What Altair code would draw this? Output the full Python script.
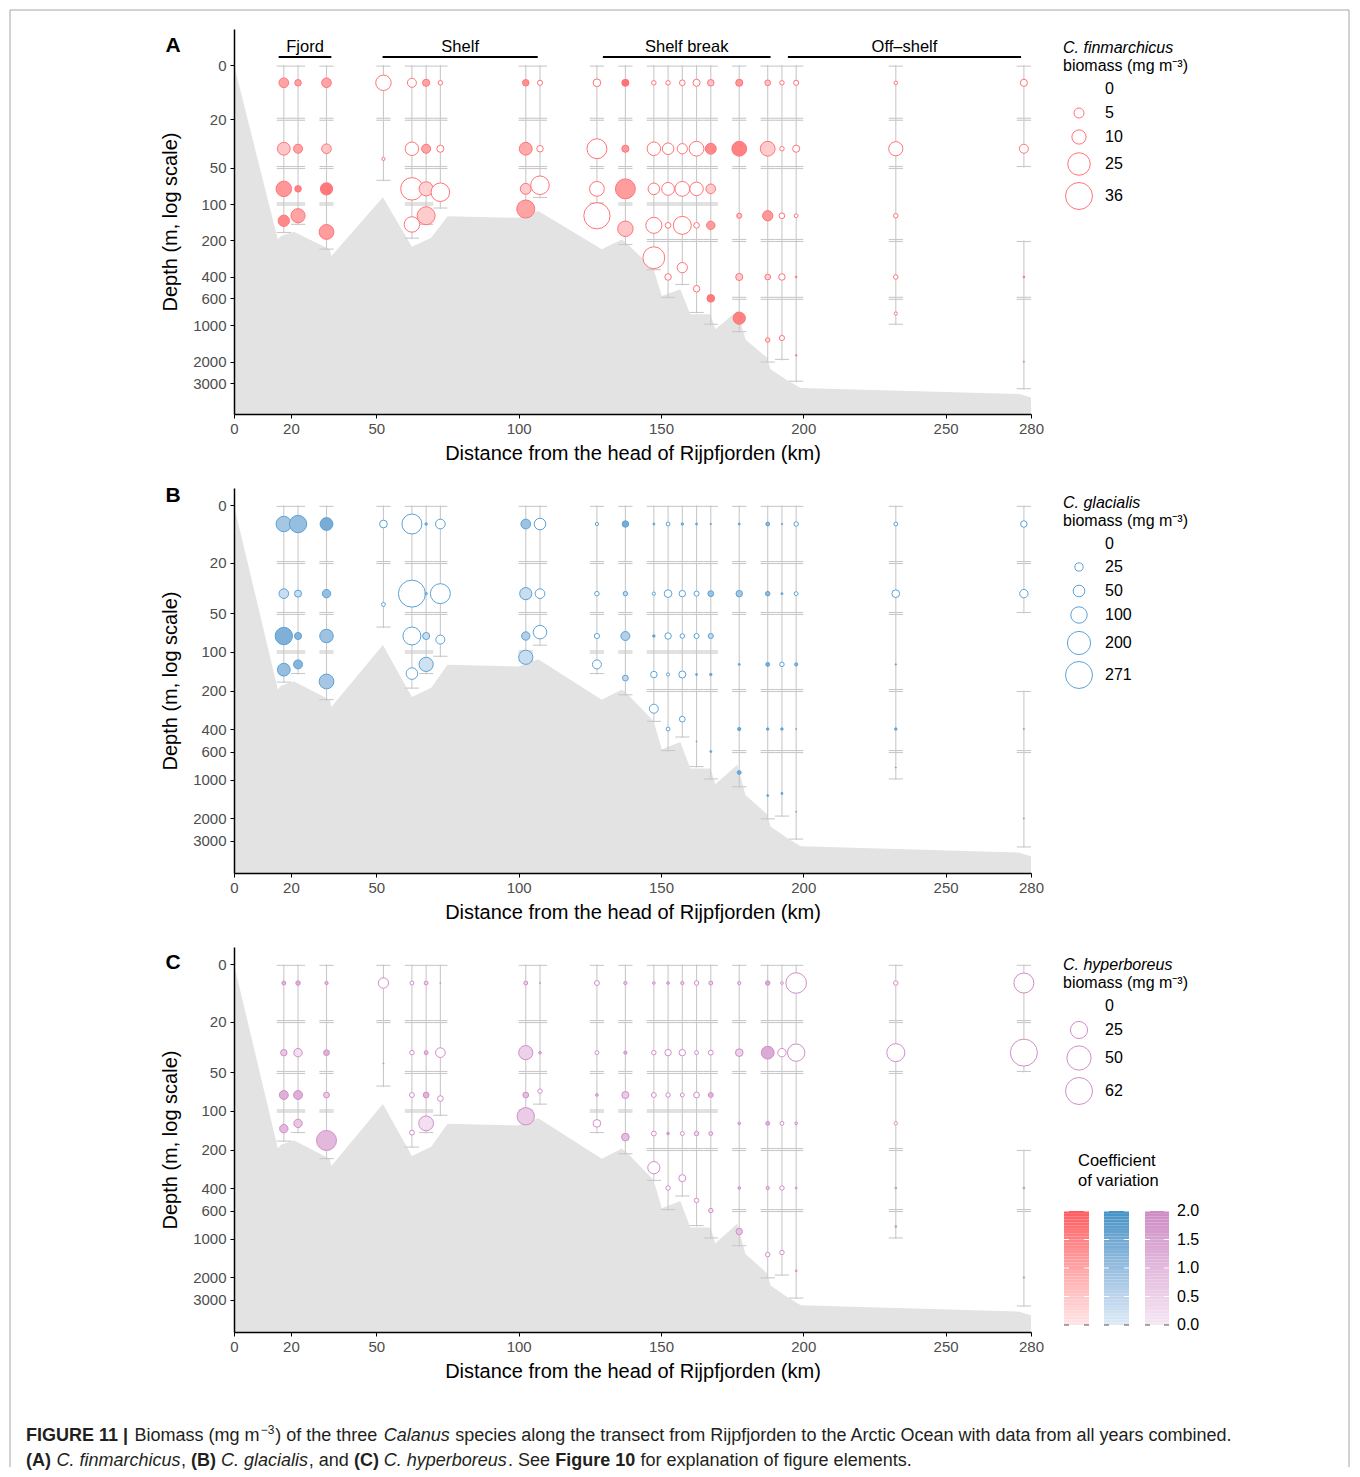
import altair as alt
import pandas as pd

N = None

# ---------------- data ----------------
STATION_KM = [17.5, 22.5, 32.5, 52.5, 62.5, 67.5, 72.5, 102.5, 107.5, 127.5, 137.5,
              147.5, 152.5, 157.5, 162.5, 167.5, 177.5, 187.5, 192.5, 197.5, 232.5, 277.5]

STRATA = [
    [(0, 20), (20, 50), (50, 100), (100, 175)],
    [(0, 20), (20, 50), (50, 100), (100, 150)],
    [(0, 20), (20, 50), (50, 100), (100, 240)],
    [(0, 20), (20, 65)],
    [(0, 20), (20, 50), (50, 100), (100, 195)],
    [(0, 20), (20, 50), (50, 100), (100, 150)],
    [(0, 20), (20, 50), (50, 110)],
    [(0, 20), (20, 50), (50, 100), (100, 120)],
    [(0, 20), (20, 50), (50, 90)],
    [(0, 20), (20, 50), (50, 100), (100, 150)],
    [(0, 20), (20, 50), (50, 100), (100, 220)],
    [(0, 20), (20, 50), (50, 100), (100, 200), (200, 355)],
    [(0, 20), (20, 50), (50, 100), (100, 200), (200, 600)],
    [(0, 20), (20, 50), (50, 100), (100, 200), (200, 470)],
    [(0, 20), (20, 50), (50, 100), (100, 200), (200, 800)],
    [(0, 20), (20, 50), (50, 100), (100, 200), (200, 1000)],
    [(0, 20), (20, 50), (50, 200), (200, 600), (600, 1150)],
    [(0, 20), (20, 50), (50, 200), (200, 600), (600, 2050)],
    [(0, 20), (20, 50), (50, 200), (200, 600), (600, 1950)],
    [(0, 20), (20, 50), (50, 200), (200, 600), (600, 2950)],
    [(0, 20), (20, 50), (50, 200), (200, 600), (600, 1000)],
    [(0, 20), (20, 50), (200, 600), (600, 3400)],
]

BATHY_KM = [0, 15.4, 16.5, 21.0, 33.6, 34.2, 52.3, 62.5, 69.3, 75.0, 99.8, 106.9, 129.2,
            136.3, 138.6, 147.4, 150.3, 156.8, 160.3, 167.4, 169.1, 176.8, 179.7, 187.3,
            188.5, 193.8, 199.1, 275.9, 280]
BATHY_DEPTH = [0, 196, 184, 169, 236, 269, 88, 225, 190, 126, 130, 114, 236,
               196, 218, 346, 575, 506, 813, 813, 1082, 762, 1310, 1857,
               2310, 2790, 3290, 3700, 3950]

FIN_BIOMASS = [
    [4.6, 8.1, 11.8, 6.3], [2.1, 4.0, 2.1, 9.9], [4.6, 4.6, 7.4, 10.8], [11.8, 0.5],
    [4.0, 9.0, 25.0, 11.8], [2.5, 4.0, 9.9, 16.0], [1.0, 2.5, 17.0], [2.1, 8.1, 5.9, 16.0],
    [1.3, 2.1, 17.0], [2.9, 19.6, 10.8, 34.0], [2.5, 2.5, 19.6, 11.8],
    [1.0, 9.0, 6.6, 12.8, 23.6], [1.0, 6.6, 8.1, 1.6, 2.1], [1.6, 5.2, 10.8, 16.0, 5.2],
    [2.5, 10.8, 9.0, 1.6, 2.1], [2.1, 5.9, 4.6, 3.5, 2.9], [2.5, 10.8, 1.3, 2.5, 7.4],
    [1.6, 10.8, 5.2, 1.6, 1.0], [1.0, 1.0, 1.6, 2.1, 1.3], [1.3, 2.5, 0.7, 0.15, 0.1],
    [0.6, 9.9, 1.0, 1.0, 0.5], [2.5, 4.0, 0.15, 0.05],
]
FIN_CV = [
    [1.0, 0.5, 1.2, 1.4], [1.0, 1.0, 1.5, 1.0], [1.0, 0.5, 1.6, 1.1], [N, N],
    [N, N, N, N], [1.0, 1.0, 0.3, 0.4], [N, N, N], [1.3, 0.9, 0.4, 1.0],
    [N, N, N], [N, N, N, N], [1.7, 1.2, 1.1, 0.5],
    [N, N, N, N, N], [N, N, N, N, N], [N, N, N, N, N],
    [N, N, N, N, N], [0.5, 1.4, 0.4, 1.1, 1.6], [1.2, 1.5, 0.6, 0.4, 1.5],
    [0.5, 0.4, 1.2, 0.3, 0.2], [N, N, N, N, N], [N, N, N, 1.5, 1.5],
    [N, N, N, N, N], [N, N, 1.5, 1.5],
]

GLA_BIOMASS = [
    [88.5, 34.6, 112, 61], [112, 18.6, 18.6, 30], [61, 26, 68, 81], [22, 5.5],
    [148, 271, 120, 50], [2.2, 2.2, 18.6, 75], [35, 148, 30], [35, 55, 26, 75],
    [50, 35, 68], [3.8, 7.5, 9.7, 30], [15.5, 7.5, 30, 12.4],
    [1.4, 3.8, 2.2, 15.5, 30], [5.5, 22, 15.5, 3.8, 5.5], [2.2, 15.5, 7.5, 18.6, 12.4],
    [1.4, 9.7, 9.7, 1.4, 0.3], [0.6, 12.4, 9.7, 2.2, 1.4], [1.4, 15.5, 1.4, 3.8, 5.5],
    [5.5, 7.5, 5.5, 2.2, 1.4], [0.6, 1.4, 7.5, 2.2, 1.4], [7.5, 5.5, 3.8, 0.3, 0.3],
    [5.5, 22, 0.6, 2.2, 0.3], [15.5, 26, 0.3, 0.3],
]
GLA_CV = [
    [0.8, 0.3, 1.3, 1.0], [1.0, 0.3, 1.2, 1.2], [1.4, 1.0, 0.9, 0.8], [N, N],
    [N, N, N, N], [1.2, 1.0, 0.3, 0.2], [N, N, N], [0.9, 0.3, 0.6, 0.3],
    [N, N, N], [N, N, N, N], [1.4, 0.4, 0.6, 0.4],
    [1.0, N, 1.3, N, N], [N, N, N, N, N], [1.0, N, N, N, N],
    [1.2, N, N, 1.3, 1.5], [1.5, 0.9, 0.4, 1.4, 1.4], [1.5, 0.8, 1.5, 1.5, 1.5],
    [1.1, 1.1, 1.4, 1.5, 1.5], [1.5, 1.5, N, 1.5, 1.5], [N, N, 1.2, 1.5, 1.5],
    [N, N, 1.5, 1.4, 1.5], [N, N, 1.5, 1.5],
]

HYP_BIOMASS = [
    [1.3, 3.5, 6.8, 6.0], [1.7, 6.0, 6.8, 6.0], [0.9, 2.8, 2.8, 34], [9.0, 0.1],
    [1.3, 1.7, 2.0, 2.0], [1.3, 1.3, 2.8, 18.6], [0.1, 7.9, 2.8], [1.3, 17, 2.8, 25.6],
    [0.1, 0.6, 1.7], [2.0, 1.3, 0.6, 5.0], [0.9, 0.9, 4.2, 5.0],
    [0.6, 1.7, 2.0, 2.0, 12.7], [0.6, 3.5, 1.7, 0.6, 1.7], [0.9, 3.5, 1.3, 1.3, 4.2],
    [1.7, 1.3, 2.8, 1.7, 1.7], [1.3, 2.0, 2.0, 1.3, 1.7], [0.9, 5.0, 0.6, 0.6, 3.5],
    [1.7, 14, 1.3, 0.9, 1.7], [0.6, 6.0, 1.3, 1.7, 1.7], [36, 25.6, 0.6, 0.3, 0.3],
    [1.7, 27.6, 0.9, 0.3, 0.3], [34, 62, 0.3, 0.2],
]
HYP_CV = [
    [1.1, 0.7, 1.2, 1.0], [1.2, 0.2, 1.2, 0.7], [1.0, 1.2, 0.6, 1.0], [N, 1.0],
    [N, N, N, N], [0.4, 1.0, 1.1, 0.2], [1.0, N, N], [0.5, 0.5, 0.9, 0.6],
    [1.0, 1.2, N], [N, N, 1.0, N], [0.6, 1.3, 0.6, 0.9],
    [0.5, N, N, N, N], [1.0, N, N, 1.3, N], [0.5, N, N, N, N],
    [N, N, N, 0.3, N], [0.5, N, 1.1, 0.4, 0.2], [0.3, 0.5, 1.0, 1.0, 0.8],
    [1.3, 1.3, 1.2, 0.6, N], [N, N, N, N, N], [N, N, 0.5, 1.0, 1.0],
    [N, N, N, 1.0, 1.0], [N, N, 1.0, 1.0],
]

LEGEND_FIN = [0, 5, 10, 25, 36]
LEGEND_GLA = [0, 25, 50, 100, 200, 271]
LEGEND_HYP = [0, 25, 50, 62]
CV_TICKS = [0.0, 0.5, 1.0, 1.5, 2.0]

X_TICKS = [0, 20, 50, 100, 150, 200, 250, 280]
Y_TICKS = [0, 20, 50, 100, 200, 400, 600, 1000, 2000, 3000]

REGION_NAMES = ["Fjord", "Shelf", "Shelf break", "Off\u2013shelf"]
REGION_START = [15.7, 52.2, 129.6, 194.6]
REGION_END = [34.2, 106.7, 188.5, 276.5]

# ---------------- layout / style ----------------
W, H = 797, 385
SURFACE = 7.15          # log-axis position where the "0 m" label sits
CAP_HALF = 2.5          # half width of error-bar caps (km)
NO_CV = -1              # marker for "no coefficient of variation" (open circle)
FONT = "Liberation Sans"
SEABED = "#E3E3E3"
ERR = "#C9C9C9"
FRAME = "#A6A6A6"
PAL_FIN = ("#FFE6E7", "#FF5A5F", "#FF7479")
PAL_GLA = ("#DEEBF7", "#4292C6", "#5BA3D6")
PAL_HYP = ("#F6E8F4", "#CC8BC4", "#D38DCA")
SIZE_MAX = 729


def pdepth(d):
    return SURFACE if d == 0 else d


bathy_df = pd.DataFrame({"km": BATHY_KM, "depth": [pdepth(d) for d in BATHY_DEPTH]})

rows = []
for km, strata in zip(STATION_KM, STRATA):
    for top, bot in strata:
        rows.append(dict(km=km, top=pdepth(top), bottom=bot, xl=km - CAP_HALF, xr=km + CAP_HALF))
strata_df = pd.DataFrame(rows)


def circles_df(biomass, cvs):
    out = []
    for km, strata, bs, cs in zip(STATION_KM, STRATA, biomass, cvs):
        for (top, bot), b, c in zip(strata, bs, cs):
            if b and b > 0:
                out.append(dict(km=km, mid=(top + bot) / 2, biomass=b,
                                cv=NO_CV if c is None else c))
    return pd.DataFrame(out)


one = pd.DataFrame({"a": [0]})

XSCALE = alt.Scale(domain=[0, 280], nice=False, zero=False)
AX_STYLE = dict(labelFontSize=15, labelColor="#4D4D4D", labelFont=FONT, titleFont=FONT,
                titleFontSize=20, titleFontWeight="normal", titleColor="black",
                domainColor="black", domainWidth=1.5, tickColor="black", tickSize=4,
                tickWidth=1, grid=False, labelOverlap=False, zindex=1)
XAXIS = alt.Axis(values=X_TICKS, format="d", title="Distance from the head of Rijpfjorden (km)",
                 labelPadding=3, titlePadding=7, labelFlush=False, **AX_STYLE)
YAXIS = alt.Axis(values=[pdepth(v) for v in Y_TICKS],
                 labelExpr="datum.value < 10 ? '0' : format(datum.value, 'd')",
                 title="Depth (m, log scale)", labelPadding=4, titlePadding=12, **AX_STYLE)


def panel(letter, letter_y, ydom, biomass, cvs, max_v, pal, regions=False, frame=False):
    light, dark, stroke = pal
    yscale = alt.Scale(type="log", domain=ydom, reverse=True, nice=False, zero=False)

    def X(f):
        return alt.X(f, type="quantitative", scale=XSCALE, axis=XAXIS)

    def Y(f):
        return alt.Y(f, type="quantitative", scale=yscale, axis=YAXIS, stack=None)

    area = alt.Chart(bathy_df).mark_area(color=SEABED, opacity=1).encode(
        x=X("km"), y=Y("depth"), y2=alt.value(H))
    vr = alt.Chart(strata_df).mark_rule(color=ERR, strokeWidth=1.1).encode(
        x=X("km"), y=Y("top"), y2=alt.Y2("bottom"))
    ct = alt.Chart(strata_df).mark_rule(color=ERR, strokeWidth=1.1, yOffset=1).encode(
        x=X("xl"), x2=alt.X2("xr"), y=Y("top"))
    cb = alt.Chart(strata_df).mark_rule(color=ERR, strokeWidth=1.1, yOffset=-1).encode(
        x=X("xl"), x2=alt.X2("xr"), y=Y("bottom"))
    circ = alt.Chart(circles_df(biomass, cvs)).mark_circle(
        opacity=1, stroke=stroke, strokeWidth=1).encode(
        x=X("km"), y=Y("mid"),
        size=alt.Size("biomass:Q", scale=alt.Scale(domain=[0, max_v], range=[0, SIZE_MAX]), legend=None),
        fill=alt.condition("datum.cv < 0", alt.value("white"),
                           alt.Fill("cv:Q", scale=alt.Scale(domain=[0, 2], range=[light, dark]), legend=None)))
    let = alt.Chart(one).mark_text(fontSize=21, fontWeight="bold", font=FONT, color="black",
                                   align="center", baseline="middle").encode(
        x=alt.value(-61), y=alt.value(letter_y), text=alt.value(letter))
    layers = [area, vr, ct, cb, circ, let]
    if regions:
        rdf = pd.DataFrame({"name": REGION_NAMES, "start": REGION_START, "end": REGION_END})
        rdf["mid"] = (rdf["start"] + rdf["end"]) / 2
        layers.append(alt.Chart(rdf).mark_rule(color="black", strokeWidth=2).encode(
            x=X("start"), x2=alt.X2("end"), y=alt.value(28)))
        layers.append(alt.Chart(rdf).mark_text(fontSize=16.5, font=FONT, color="black",
                                               baseline="middle").encode(
            x=X("mid"), y=alt.value(18), text="name:N"))
    if frame:
        layers.append(alt.Chart(one).mark_rule(color=FRAME, strokeWidth=1).encode(
            x=alt.value(-224), y=alt.value(-19), y2=alt.value(1438)))
        layers.append(alt.Chart(one).mark_rule(color=FRAME, strokeWidth=1).encode(
            x=alt.value(1115), y=alt.value(-19), y2=alt.value(1438)))
        layers.append(alt.Chart(one).mark_rule(color=FRAME, strokeWidth=1).encode(
            x=alt.value(-224), x2=alt.value(1115), y=alt.value(-19)))
    return alt.layer(*layers).properties(width=W, height=H)


IDY = alt.Scale(domain=[0, H], range=[0, H])


def legend(species, values, title_y, item_y, max_v, pal, cv_bars=False):
    light, dark, stroke = pal
    ldf = pd.DataFrame({"v": values, "ly": item_y})
    t1 = alt.Chart(one).mark_text(fontSize=16, font=FONT, fontStyle="italic", align="left",
                                  baseline="middle", color="black").encode(
        x=alt.value(22), y=alt.value(title_y[0]), text=alt.value(species))
    t2 = alt.Chart(one).mark_text(fontSize=16, font=FONT, align="left", baseline="middle",
                                  color="black").encode(
        x=alt.value(22), y=alt.value(title_y[1]), text=alt.value("biomass (mg m\u207b\u00b3)"))
    circ = alt.Chart(ldf).mark_circle(opacity=1, fill="white", stroke=stroke, strokeWidth=1).encode(
        x=alt.value(38), y=alt.Y("ly:Q", scale=IDY, axis=None),
        size=alt.Size("v:Q", scale=alt.Scale(domain=[0, max_v], range=[0, SIZE_MAX]), legend=None))
    lab = alt.Chart(ldf).mark_text(fontSize=16, font=FONT, align="left", baseline="middle",
                                   color="black").encode(
        x=alt.value(64), y=alt.Y("ly:Q", scale=IDY, axis=None), text=alt.Text("v:Q", format="d"))
    layers = [t1, t2, circ, lab]
    if cv_bars:
        cvy = alt.Scale(domain=[0, 2], range=[378, 264])
        steps = pd.DataFrame({"lo": [i * 0.05 for i in range(40)]})
        steps["hi"] = steps["lo"] + 0.05
        steps["mid"] = steps["lo"] + 0.025
        tick_df = pd.DataFrame({"c": CV_TICKS})
        for (x0, x1), p in zip([(23, 48), (63, 88), (104, 128)], [PAL_FIN, PAL_GLA, PAL_HYP]):
            layers.append(alt.Chart(steps).mark_rect().encode(
                x=alt.value(x0), x2=alt.value(x1),
                y=alt.Y("lo:Q", scale=cvy, axis=None), y2=alt.Y2("hi"),
                fill=alt.Fill("mid:Q", scale=alt.Scale(domain=[0, 2], range=[p[0], p[1]]), legend=None)))
            for a, b in [(x0, x0 + 5), (x1 - 5, x1)]:
                layers.append(alt.Chart(tick_df).mark_rule(strokeWidth=1).encode(
                    x=alt.value(a), x2=alt.value(b), y=alt.Y("c:Q", scale=cvy, axis=None),
                    color=alt.condition("datum.c == 0", alt.value("#555555"), alt.value("white"))))
        layers.append(alt.Chart(tick_df).mark_text(fontSize=16, font=FONT, align="left",
                                                   baseline="middle", color="black").encode(
            x=alt.value(136), y=alt.Y("c:Q", scale=cvy, axis=None), text=alt.Text("c:Q", format=".1f")))
        for txt, yy in [("Coefficient", 214), ("of variation", 234)]:
            layers.append(alt.Chart(one).mark_text(fontSize=16.5, font=FONT, align="left",
                                                   baseline="middle", color="black").encode(
                x=alt.value(37), y=alt.value(yy), text=alt.value(txt)))
    return alt.layer(*layers).resolve_scale(y="independent", fill="independent", color="independent").properties(
        width=150, height=H)


RES = dict(x="independent", y="independent", size="independent", fill="independent", color="independent")

pA = panel("A", 17, [3.6, 5400], FIN_BIOMASS, FIN_CV, 36, PAL_FIN, regions=True, frame=True)
pB = panel("B", 8, [5.23, 5336], GLA_BIOMASS, GLA_CV, 271, PAL_GLA)
pC = panel("C", 16, [5.23, 5336], HYP_BIOMASS, HYP_CV, 62, PAL_HYP)

lA = legend("C. finmarchicus", LEGEND_FIN, [19, 37], [60, 84, 108, 135, 167], 36, PAL_FIN)
lB = legend("C. glacialis", LEGEND_GLA, [15, 33], [56, 79, 103, 127, 155, 187], 271, PAL_GLA)
lC = legend("C. hyperboreus", LEGEND_HYP, [18, 36], [59, 83, 111, 144], 62, PAL_HYP, cv_bars=True)

# caption (text layout: segment, style, page x, line)
CAPTION = [
    ("FIGURE 11 |", "bold", 25, 0),
    ("Biomass (mg m", "normal", 133.6, 0),
    ("\u22123", "sup", 259.8, 0),
    (") of the three", "normal", 274.2, 0),
    ("Calanus", "italic", 382.8, 0),
    ("species along the transect from Rijpfjorden to the Arctic Ocean with data from all years combined.",
     "normal", 454.2, 0),
    ("(A)", "bold", 25, 1),
    ("C. finmarchicus", "italic", 55.4, 1),
    (",", "normal", 180, 1),
    ("(B)", "bold", 190.1, 1),
    ("C. glacialis", "italic", 219.9, 1),
    (", and", "normal", 307.8, 1),
    ("(C)", "bold", 353, 1),
    ("C. hyperboreus", "italic", 382.8, 1),
    (". See", "normal", 506.9, 1),
    ("Figure 10", "bold", 554.3, 1),
    ("for explanation of figure elements.", "normal", 639.5, 1),
]
LINE_Y = [30, 55]
ORIGIN_X = 233

cap_layers = []
for style, props in [("normal", {}), ("bold", {"fontWeight": "bold"}),
                     ("italic", {"fontStyle": "italic"}), ("sup", {"fontSize": 12, "dy": -6})]:
    seg = [(t, x - ORIGIN_X, LINE_Y[ln]) for t, s, x, ln in CAPTION if s == style]
    df = pd.DataFrame(seg, columns=["t", "x", "y"])
    mp = dict(font=FONT, fontSize=18, color="#231F20", align="left", baseline="middle")
    mp.update(props)
    cap_layers.append(alt.Chart(df).mark_text(**mp).encode(
        x=alt.X("x:Q", scale=None, axis=None), y=alt.Y("y:Q", scale=None, axis=None), text="t:N"))
caption = alt.layer(*cap_layers).properties(width=W, height=60)

chart = alt.concat(pA, lA, pB, lB, pC, lC, caption, columns=2,
                   spacing=alt.RowColnumber(row=74, column=10),
                   bounds="flush").resolve_scale(**RES).properties(padding=1)
chart = chart.configure(font=FONT).configure_view(strokeWidth=0, stroke="transparent")

chart.save("out.html", embed_options={"renderer": "svg", "actions": False})
